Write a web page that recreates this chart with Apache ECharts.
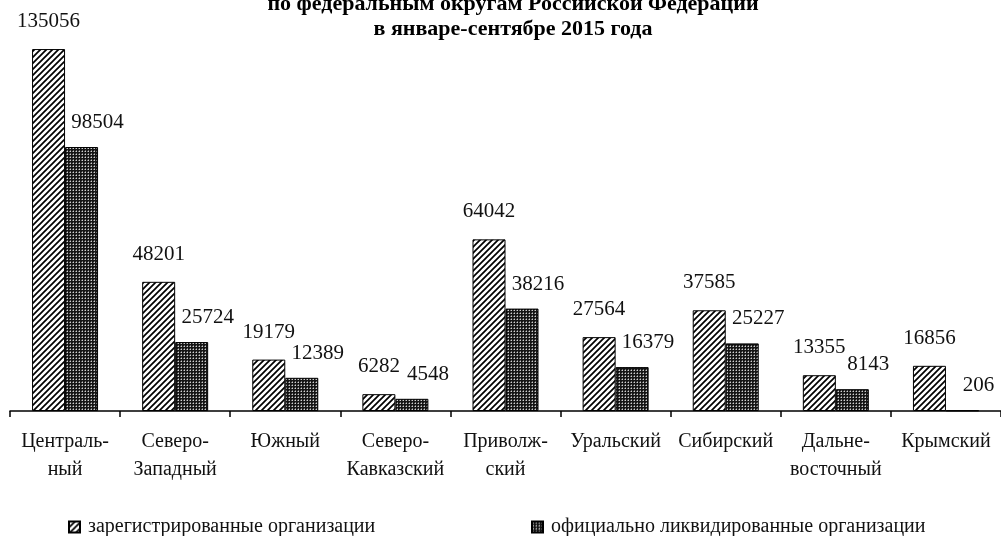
<!DOCTYPE html>
<html>
<head>
<meta charset="utf-8">
<script src="https://cdn.jsdelivr.net/npm/echarts@6/dist/echarts.min.js"></script>
<style>html,body{margin:0;padding:0;background:#fff;}#c{width:1001px;height:536px;}</style>
</head>
<body>
<div id="c"></div>
<script>
const categories = ['Централь-\nный','Северо-\nЗападный','Южный','Северо-\nКавказский','Приволж-\nский','Уральский','Сибирский','Дальне-\nвосточный','Крымский'];
const registered = [135056, 48201, 19179, 6282, 64042, 27564, 37585, 13355, 16856];
const liquidated = [98504, 25724, 12389, 4548, 38216, 16379, 25227, 8143, 206];
const seriesNames = ['зарегистрированные организации','официально ликвидированные организации'];
const titleText = 'по федеральным округам Российской Федерации\nв январе-сентябре 2015 года';

function hatchPattern(){
  const c = document.createElement('canvas'); c.width = 6; c.height = 6;
  const x = c.getContext('2d');
  x.fillStyle = '#fff'; x.fillRect(0,0,6,6);
  x.strokeStyle = '#000'; x.lineWidth = 1.7;
  x.beginPath();
  x.moveTo(-1,7); x.lineTo(7,-1);
  x.moveTo(-4,4); x.lineTo(4,-4);
  x.moveTo(2,10); x.lineTo(10,2);
  x.stroke();
  return c;
}
function darkPattern(){
  const c = document.createElement('canvas'); c.width = 3; c.height = 3;
  const x = c.getContext('2d');
  x.fillStyle = '#151515'; x.fillRect(0,0,3,3);
  x.fillStyle = '#d0d0d0'; x.fillRect(1,1,1,1);
  x.fillStyle = '#6a6a6a'; x.fillRect(0,1,1,1); x.fillRect(1,0,1,1);
  return c;
}

const font = '"Liberation Serif", "Times New Roman", serif';
const chart = echarts.init(document.getElementById('c'));
chart.setOption({
  animation: false,
  backgroundColor: '#fff',
  title: {
    text: titleText, left: 508, textAlign: 'center', top: -13,
    textStyle: {fontFamily: font, fontWeight: 'bold', fontSize: 22, lineHeight: 25, color: '#000'}
  },
  grid: {left: 10, right: -8, top: 9, bottom: 125},
  legend: [
    {data: [seriesNames[0]], left: 63, top: 512, itemWidth: 11, itemHeight: 11, icon: 'rect',
     textStyle: {fontFamily: font, fontSize: 20, color: '#111', padding: [0, 0, 0, 3]}},
    {data: [seriesNames[1]], left: 526, top: 512, itemWidth: 11, itemHeight: 11, icon: 'rect',
     textStyle: {fontFamily: font, fontSize: 20, color: '#111', padding: [0, 0, 0, 3]}}
  ],
  xAxis: {
    type: 'category', data: categories,
    axisLine: {lineStyle: {color: '#000', width: 1.5}},
    axisTick: {show: true, length: 6, lineStyle: {color: '#000', width: 1.5}},
    axisLabel: {fontFamily: font, fontSize: 20, lineHeight: 28, color: '#111', margin: 17, interval: 0}
  },
  yAxis: {type: 'value', min: 0, max: 150000, show: false, splitLine: {show: false}},
  series: [
    {name: seriesNames[0], type: 'bar', data: registered, barWidth: 33, barGap: '0%',
     itemStyle: {color: {image: hatchPattern(), repeat: 'repeat'}, borderColor: '#000', borderWidth: 1},
     label: {show: true, position: 'top', distance: 17, fontFamily: font, fontSize: 21, color: '#111'}},
    {name: seriesNames[1], type: 'bar', data: liquidated, barWidth: 33,
     itemStyle: {color: {image: darkPattern(), repeat: 'repeat'}, borderColor: '#000', borderWidth: 1},
     label: {show: true, position: 'top', distance: 14, offset: [16, 0], fontFamily: font, fontSize: 21, color: '#111'}}
  ]
});
</script>
</body>
</html>
